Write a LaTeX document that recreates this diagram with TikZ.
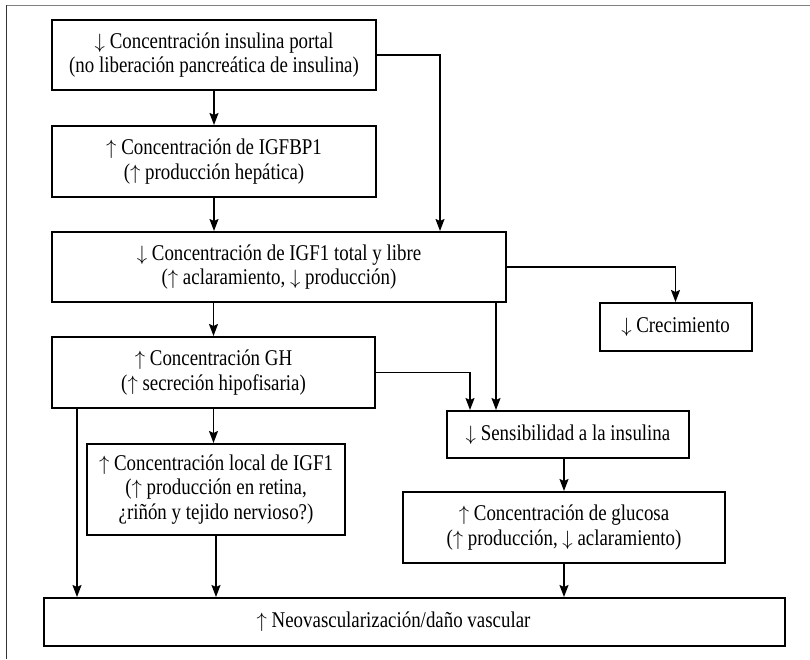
\documentclass[tikz,border=0pt]{standalone}
\usepackage{fontspec}
\setmainfont[FakeStretch=0.84]{Liberation Serif}
\usetikzlibrary{arrows.meta,positioning,shapes}
\newcommand{\baja}{$\downarrow$}
\newcommand{\sube}{$\uparrow$}

\begin{document}
\begin{tikzpicture}[x=1pt,y=-1pt,line width=1.6pt,
    >={Stealth[length=12pt,width=9pt,inset=2pt]},
    font=\fontsize{22.5}{24.5}\selectfont,
    box/.style={draw,rectangle,line width=2pt,align=center,inner sep=0pt}]

  \useasboundingbox (0,0) rectangle (810,659);
  % marco
  \draw[line width=1pt,gray] (6,5) -- (810,5);
  \draw[line width=1pt,black!80] (6,5) -- (6,659);

  \node[box] (1) [minimum width=324pt,minimum height=70pt] at (214,55)
    {\baja{} Concentración insulina portal\\(no liberación pancreática de insulina)};
  \node[box] (2) [minimum width=324pt,minimum height=71pt] at (214,161.5)
    {\sube{} Concentración de IGFBP1\\(\sube{} producción hepática)};
  \node[box] (3) [minimum width=454pt,minimum height=70pt] at (279,267)
    {\baja{} Concentración de IGF1 total y libre\\(\sube{} aclaramiento, \baja{} producción)};
  \node[box] (4) [minimum width=152pt,minimum height=48pt] at (675.5,327)
    {\baja{} Crecimiento};
  \node[box] (5) [minimum width=323pt,minimum height=71pt] at (213.5,372.5)
    {\sube{} Concentración GH\\(\sube{} secreción hipofisaria)};
  \node[box] (6) [minimum width=242pt,minimum height=47pt] at (568,434.5)
    {\baja{} Sensibilidad a la insulina};
  \node[box] (7) [minimum width=258pt,minimum height=91pt] at (216,489.5)
    {\sube{} Concentración local de IGF1\\(\sube{} producción en retina,\\¿riñón y tejido nervioso?)};
  \node[box] (8) [minimum width=322pt,minimum height=71pt] at (564,527.5)
    {\sube{} Concentración de glucosa\\(\sube{} producción, \baja{} aclaramiento)};
  \node[box] (9) [minimum width=741pt,minimum height=48pt,
    label={[xshift=-21pt]center:\sube{} Neovascularización/daño vascular}] at (414.5,622) {};

  \coordinate (k1) at (440,0);
  \coordinate (k2) at (496,0);
  \coordinate (k3) at (470,0);
  \coordinate (k4) at (77,0);

  \path[->]
    (1) edge (2)
    (2.south) edge (2.south |- 3.north)
    (5.north |- 3.south) edge (5.north)
    (5.south) edge (5.south |- 7.north)
    (7.south) edge (7.south |- 9.north)
    (8.north |- 6.south) edge (8.north)
    (8.south) edge (8.south |- 9.north)
    (k2 |- 3.south) edge (k2 |- 6.north)
    (k4 |- 5.south) edge (k4 |- 9.north);

  \draw[->] (1.east) -| (k1 |- 3.north);
  \draw[->] (3.east) -| (4.north);
  \draw[->] (5.east) -| (k3 |- 6.north);

\end{tikzpicture}
\end{document}
